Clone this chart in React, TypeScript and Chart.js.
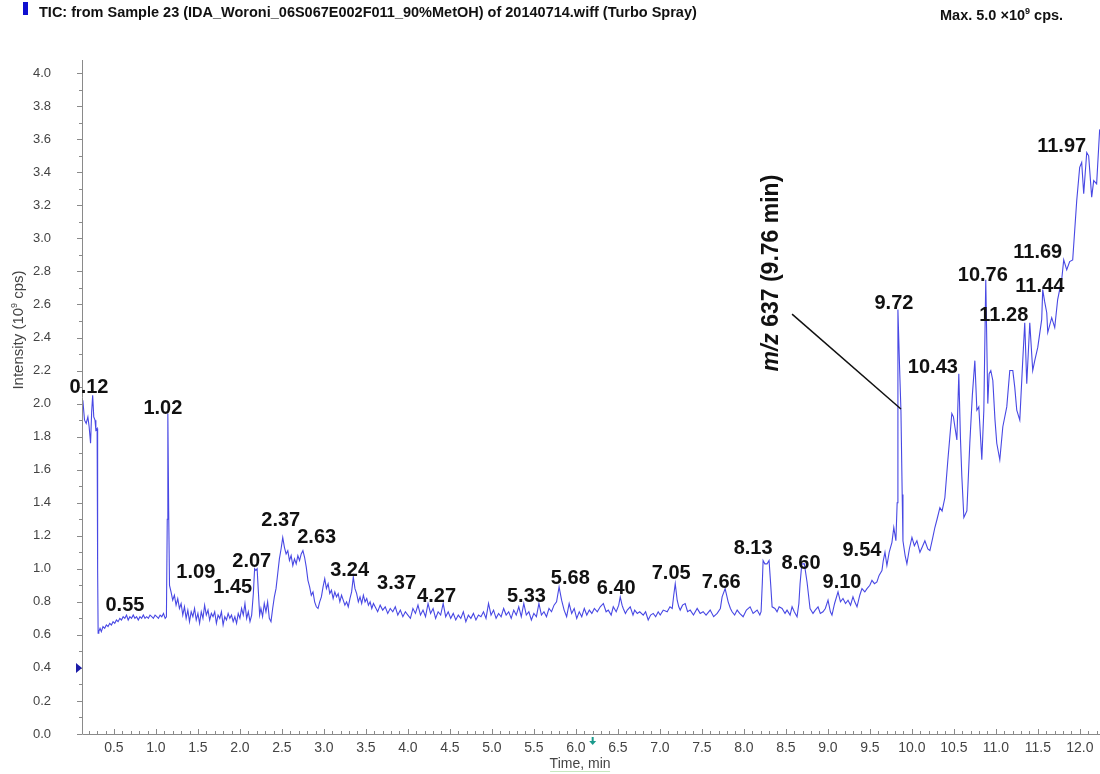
import React, { useEffect, useRef } from "react";
import { Chart, registerables } from "chart.js";

Chart.register(...registerables);

const FONT = '"Liberation Sans", Arial, Helvetica, sans-serif';

// ---- TIC trace (time in min, intensity in 10^9 cps) ----
const timeStart = [0.13, 0.15, 0.17, 0.19, 0.205, 0.222, 0.235, 0.247, 0.26, 0.275, 0.285, 0.30, 0.306, 0.312];
const intStart = [2.02, 1.90, 1.88, 1.92, 1.86, 1.76, 1.95, 2.05, 1.92, 1.90, 1.84, 1.85, 1.00, 0.61];

const timeFlat = [0.32, 0.335, 0.35, 0.37, 0.39, 0.41, 0.43, 0.45, 0.47, 0.49, 0.51, 0.53, 0.55, 0.57, 0.59, 0.61, 0.63, 0.65, 0.67, 0.69, 0.71, 0.73, 0.75, 0.77, 0.79, 0.81, 0.83, 0.85, 0.87, 0.89, 0.91, 0.93, 0.95, 0.97, 0.99, 1.01, 1.03, 1.05, 1.07, 1.09, 1.11, 1.125];
const intFlat = [0.62, 0.64, 0.62, 0.65, 0.64, 0.66, 0.65, 0.67, 0.66, 0.68, 0.67, 0.69, 0.68, 0.70, 0.69, 0.71, 0.70, 0.72, 0.69, 0.71, 0.70, 0.72, 0.70, 0.71, 0.69, 0.71, 0.70, 0.72, 0.70, 0.71, 0.70, 0.72, 0.71, 0.70, 0.72, 0.71, 0.70, 0.72, 0.71, 0.73, 0.70, 0.71];

const timeSpike = [1.135, 1.142, 1.152, 1.162];
const intSpike = [1.30, 1.94, 1.35, 0.90];

const timeEarly = [1.18, 1.20, 1.22, 1.24, 1.26, 1.28, 1.30, 1.32, 1.34, 1.36, 1.38, 1.40, 1.42, 1.44, 1.46, 1.48, 1.50, 1.52, 1.54, 1.56, 1.58, 1.60, 1.62, 1.64, 1.66, 1.68, 1.70, 1.72, 1.74, 1.76, 1.78, 1.80, 1.82, 1.84, 1.86, 1.88, 1.90, 1.92, 1.94, 1.96, 1.98, 2.00, 2.02, 2.04, 2.06, 2.08, 2.10, 2.12, 2.14];
const intEarly = [0.86, 0.81, 0.84, 0.78, 0.82, 0.76, 0.79, 0.72, 0.77, 0.70, 0.75, 0.68, 0.74, 0.71, 0.76, 0.69, 0.73, 0.67, 0.74, 0.70, 0.78, 0.72, 0.75, 0.69, 0.73, 0.71, 0.74, 0.67, 0.72, 0.70, 0.74, 0.66, 0.71, 0.69, 0.73, 0.70, 0.72, 0.68, 0.71, 0.67, 0.73, 0.70, 0.76, 0.72, 0.79, 0.70, 0.74, 0.68, 0.72];

const timeHump = [2.16, 2.175, 2.19, 2.205, 2.22, 2.235, 2.25, 2.27, 2.29, 2.31, 2.33, 2.35, 2.37, 2.39, 2.41, 2.43, 2.45, 2.47, 2.49, 2.51];
const intHump = [0.85, 1.00, 0.99, 1.00, 0.86, 0.72, 0.76, 0.71, 0.79, 0.74, 0.80, 0.70, 0.68, 0.76, 0.83, 0.88, 0.97, 1.06, 1.12, 1.19];

const timeHumpTail = [2.53, 2.55, 2.57, 2.59, 2.61, 2.63, 2.65, 2.67, 2.69, 2.71, 2.73, 2.75, 2.77, 2.79, 2.81, 2.83, 2.85, 2.87, 2.89, 2.91, 2.93, 2.95, 2.97, 2.99, 3.01, 3.03, 3.05, 3.07, 3.09, 3.11, 3.13, 3.15, 3.17, 3.19, 3.21, 3.23, 3.25, 3.27, 3.29, 3.31, 3.33, 3.35, 3.37, 3.39, 3.41, 3.43, 3.45, 3.47, 3.49, 3.51, 3.53, 3.55, 3.57, 3.59];
const intHumpTail = [1.13, 1.09, 1.11, 1.05, 1.08, 1.02, 1.06, 1.03, 1.08, 1.05, 1.09, 1.11, 1.07, 1.01, 0.93, 0.89, 0.84, 0.86, 0.80, 0.77, 0.76, 0.80, 0.83, 0.89, 0.94, 0.88, 0.91, 0.85, 0.87, 0.82, 0.86, 0.83, 0.85, 0.80, 0.84, 0.81, 0.78, 0.80, 0.77, 0.82, 0.86, 0.95, 0.88, 0.85, 0.80, 0.83, 0.79, 0.84, 0.80, 0.82, 0.78, 0.80, 0.76, 0.79];

const timeMid = [3.61, 3.64, 3.67, 3.70, 3.73, 3.76, 3.79, 3.82, 3.85, 3.88, 3.91, 3.94, 3.97, 4.00, 4.03, 4.06, 4.09, 4.12, 4.15, 4.18, 4.21, 4.24, 4.27, 4.30, 4.33, 4.36, 4.39, 4.42, 4.45, 4.48, 4.51, 4.54, 4.57, 4.60, 4.63, 4.66, 4.69, 4.72, 4.75, 4.78, 4.81, 4.84, 4.87, 4.90, 4.93, 4.96, 4.99, 5.02, 5.05, 5.08, 5.11, 5.14, 5.17, 5.20, 5.23, 5.26, 5.29, 5.32, 5.35, 5.38, 5.41, 5.44, 5.47, 5.50, 5.53, 5.56, 5.59, 5.62, 5.65, 5.68, 5.71, 5.74, 5.77, 5.80, 5.83, 5.86, 5.89, 5.92, 5.95, 5.98, 6.01, 6.04, 6.07, 6.10, 6.13, 6.16];
const intMid = [0.77, 0.74, 0.78, 0.75, 0.77, 0.73, 0.76, 0.74, 0.77, 0.72, 0.75, 0.71, 0.74, 0.72, 0.70, 0.76, 0.73, 0.78, 0.72, 0.75, 0.71, 0.79, 0.73, 0.76, 0.70, 0.74, 0.72, 0.79, 0.71, 0.74, 0.70, 0.73, 0.69, 0.72, 0.70, 0.74, 0.68, 0.72, 0.70, 0.73, 0.69, 0.72, 0.71, 0.74, 0.70, 0.79, 0.72, 0.75, 0.70, 0.73, 0.71, 0.76, 0.72, 0.74, 0.70, 0.75, 0.72, 0.77, 0.71, 0.79, 0.72, 0.74, 0.69, 0.73, 0.71, 0.79, 0.72, 0.74, 0.71, 0.76, 0.74, 0.78, 0.80, 0.89, 0.81, 0.75, 0.71, 0.79, 0.73, 0.76, 0.70, 0.74, 0.71, 0.76, 0.72, 0.75];

const timeLate = [6.19, 6.22, 6.255, 6.29, 6.327, 6.36, 6.386, 6.42, 6.445, 6.48, 6.51, 6.528, 6.55, 6.564, 6.59, 6.612, 6.647, 6.68, 6.70, 6.731, 6.76, 6.802, 6.83, 6.861, 6.89, 6.921, 6.95, 6.98, 7.004, 7.04, 7.087, 7.12, 7.147, 7.165, 7.183, 7.206, 7.225, 7.242, 7.27, 7.301, 7.33, 7.361, 7.40, 7.444, 7.48, 7.515, 7.55, 7.599, 7.64, 7.682, 7.72, 7.741, 7.777, 7.813, 7.84, 7.86, 7.89, 7.92, 7.95, 7.991, 8.03, 8.074, 8.11, 8.158, 8.19, 8.205];
const intLate = [0.73, 0.76, 0.74, 0.77, 0.79, 0.74, 0.75, 0.72, 0.77, 0.74, 0.78, 0.83, 0.78, 0.76, 0.73, 0.75, 0.77, 0.72, 0.75, 0.73, 0.74, 0.72, 0.74, 0.69, 0.72, 0.73, 0.71, 0.74, 0.72, 0.75, 0.74, 0.77, 0.76, 0.84, 0.91, 0.81, 0.77, 0.75, 0.78, 0.79, 0.74, 0.75, 0.72, 0.76, 0.73, 0.74, 0.72, 0.75, 0.71, 0.73, 0.76, 0.83, 0.88, 0.80, 0.76, 0.74, 0.72, 0.75, 0.73, 0.71, 0.75, 0.77, 0.73, 0.75, 0.72, 0.74];

const timeRise = [8.22, 8.229, 8.25, 8.276, 8.30, 8.32, 8.336, 8.37, 8.395, 8.42, 8.455, 8.49, 8.514, 8.55, 8.574, 8.60, 8.633, 8.655, 8.669, 8.69, 8.72, 8.752, 8.788, 8.823, 8.85, 8.883, 8.91, 8.942, 8.97, 9.002, 9.03, 9.049, 9.08, 9.121, 9.15, 9.18, 9.21, 9.24, 9.27, 9.299, 9.32, 9.347, 9.38, 9.406, 9.44, 9.466, 9.50, 9.525, 9.555, 9.584, 9.61, 9.644, 9.66, 9.68, 9.703, 9.73, 9.763, 9.785, 9.81];
const intRise = [0.92, 1.05, 1.03, 1.03, 1.05, 0.90, 0.77, 0.76, 0.74, 0.77, 0.76, 0.73, 0.75, 0.72, 0.77, 0.74, 0.71, 0.79, 0.91, 1.03, 1.03, 0.92, 0.76, 0.73, 0.75, 0.77, 0.73, 0.74, 0.76, 0.81, 0.74, 0.72, 0.79, 0.86, 0.80, 0.82, 0.79, 0.81, 0.78, 0.83, 0.80, 0.77, 0.84, 0.88, 0.86, 0.88, 0.90, 0.93, 0.91, 0.92, 0.96, 0.99, 1.05, 1.10, 1.02, 1.10, 1.16, 1.25, 1.17];

const timeEnd = [9.825, 9.834, 9.855, 9.870, 9.885, 9.894, 9.92, 9.941, 9.97, 10.001, 10.03, 10.06, 10.096, 10.13, 10.155, 10.19, 10.215, 10.245, 10.274, 10.30, 10.334, 10.36, 10.393, 10.429, 10.476, 10.495, 10.512, 10.536, 10.559, 10.578, 10.595, 10.619, 10.655, 10.69, 10.72, 10.75, 10.774, 10.797, 10.833, 10.857, 10.88, 10.904, 10.92, 10.94, 10.964, 10.99, 11.011, 11.047, 11.083, 11.13, 11.166, 11.202, 11.225, 11.249, 11.285, 11.32, 11.344, 11.368, 11.404, 11.439, 11.463, 11.499, 11.546, 11.558, 11.58, 11.606, 11.618, 11.665, 11.701, 11.736, 11.784, 11.808, 11.844, 11.879, 11.915, 11.963, 11.998, 12.022, 12.046, 12.082, 12.105, 12.141, 12.165, 12.20, 12.236];
const intEnd = [1.40, 2.57, 2.20, 1.96, 1.45, 1.17, 1.08, 1.03, 1.12, 1.19, 1.14, 1.17, 1.10, 1.14, 1.17, 1.12, 1.11, 1.18, 1.25, 1.30, 1.37, 1.35, 1.43, 1.66, 1.94, 1.92, 1.86, 1.78, 2.18, 1.80, 1.56, 1.31, 1.35, 1.76, 2.05, 2.26, 1.96, 1.98, 1.66, 1.96, 2.75, 2.00, 2.18, 2.20, 2.14, 1.90, 1.76, 1.66, 1.86, 1.98, 2.20, 2.20, 2.10, 1.96, 1.90, 2.26, 2.49, 2.12, 2.49, 2.20, 2.26, 2.34, 2.51, 2.69, 2.62, 2.55, 2.43, 2.52, 2.46, 2.63, 2.75, 2.87, 2.81, 2.86, 2.87, 3.23, 3.43, 3.46, 3.27, 3.52, 3.50, 3.25, 3.35, 3.33, 3.66];

// ---- peak labels (text, anchor in data units) ----
const peakLabels = ["0.12", "1.02", "0.55", "1.09", "1.45", "2.07", "2.37", "2.63", "3.24", "3.37", "4.27", "5.33", "5.68", "6.40", "7.05", "7.66", "8.13", "8.60", "9.10", "9.54", "9.72", "10.43", "10.76", "11.28", "11.44", "11.69", "11.97"];
const peakLabelTime = [0.203, 1.083, 0.631, 1.475, 1.915, 2.141, 2.486, 2.914, 3.306, 3.865, 4.341, 5.411, 5.934, 6.481, 7.135, 7.730, 8.110, 8.681, 9.168, 9.406, 9.787, 10.250, 10.845, 11.095, 11.523, 11.499, 11.784];
const peakLabelIntensity = [2.106, 1.979, 0.787, 0.986, 0.890, 1.053, 1.301, 1.198, 0.998, 0.920, 0.841, 0.841, 0.950, 0.884, 0.980, 0.926, 1.132, 1.041, 0.926, 1.119, 2.614, 2.227, 2.784, 2.542, 2.717, 2.923, 3.564];

// ---- m/z annotation ----
const annotationItalic = "m/z";
const annotationRest = " 637 (9.76 min)";
const annotationAt = [8.336, 2.79];
const annotationLineFrom = [8.574, 2.542];
const annotationLineTo = [9.870, 1.967];

const titleText = "TIC: from Sample 23 (IDA_Woroni_06S067E002F011_90%MetOH) of 20140714.wiff (Turbo Spray)";
const maxText = ["Max. 5.0 \u00d710", "9", " cps."];
const yTitle = ["Intensity (10", "9", " cps)"];
const xTitle = "Time, min";
const markerIntensity = 0.4;
const arrowTime = 6.2;

const X_MIN = 0.12;
const X_MAX = 12.24;
const Y_MIN = 0;
const Y_MAX = 4.08;

const allTimes = [...timeStart, ...timeFlat, ...timeSpike, ...timeEarly, ...timeHump, ...timeHumpTail, ...timeMid, ...timeLate, ...timeRise, ...timeEnd];
const allInts = [...intStart, ...intFlat, ...intSpike, ...intEarly, ...intHump, ...intHumpTail, ...intMid, ...intLate, ...intRise, ...intEnd];

function drawSup(ctx: CanvasRenderingContext2D, parts: string[], x: number, y: number, size: number, weight: string, align: "left" | "center") {
  const main = `${weight} ${size}px ${FONT}`;
  const sup = `${weight} ${Math.round(size * 0.6)}px ${FONT}`;
  ctx.font = main;
  const w0 = ctx.measureText(parts[0]).width;
  const w2 = ctx.measureText(parts[2]).width;
  ctx.font = sup;
  const w1 = ctx.measureText(parts[1]).width;
  const total = w0 + w1 + w2;
  let cx = align === "center" ? x - total / 2 : x;
  ctx.textAlign = "left";
  ctx.textBaseline = "alphabetic";
  ctx.font = main;
  ctx.fillText(parts[0], cx, y);
  cx += w0;
  ctx.font = sup;
  ctx.fillText(parts[1], cx, y - size * 0.42);
  cx += w1;
  ctx.font = main;
  ctx.fillText(parts[2], cx, y);
}

const overlayPlugin = {
  id: "overlay",
  afterDraw(chart: any) {
    const ctx: CanvasRenderingContext2D = chart.ctx;
    const xs = chart.scales.x;
    const ys = chart.scales.y;
    const a = chart.chartArea;
    ctx.save();

    // axis lines
    ctx.strokeStyle = "#8a8a8a";
    ctx.lineWidth = 1;
    ctx.beginPath();
    ctx.moveTo(Math.round(a.left) + 0.5, a.top);
    ctx.lineTo(Math.round(a.left) + 0.5, Math.round(a.bottom) + 0.5);
    ctx.lineTo(a.right, Math.round(a.bottom) + 0.5);
    ctx.stroke();

    // tick marks
    ctx.beginPath();
    for (let i = 0; i <= 40; i++) {
      const py = Math.round(ys.getPixelForValue(i / 10)) + 0.5;
      const len = i % 2 === 0 ? 5 : 3;
      ctx.moveTo(a.left - len, py);
      ctx.lineTo(a.left, py);
    }
    for (let i = 2; i <= 122; i++) {
      const v = i / 10;
      if (v < X_MIN || v > X_MAX) continue;
      const px = Math.round(xs.getPixelForValue(v)) + 0.5;
      const len = i % 5 === 0 ? 5 : 3;
      ctx.moveTo(px, a.bottom);
      ctx.lineTo(px, a.bottom - len);
    }
    ctx.stroke();

    // left marker triangle
    const my = ys.getPixelForValue(markerIntensity);
    ctx.fillStyle = "#1c1ca8";
    ctx.beginPath();
    ctx.moveTo(a.left - 6, my - 5);
    ctx.lineTo(a.left, my);
    ctx.lineTo(a.left - 6, my + 5);
    ctx.closePath();
    ctx.fill();

    // teal arrow under the x axis
    const ax = xs.getPixelForValue(arrowTime);
    ctx.strokeStyle = "#1a9a8c";
    ctx.fillStyle = "#1a9a8c";
    ctx.lineWidth = 2;
    ctx.beginPath();
    ctx.moveTo(ax, a.bottom + 3);
    ctx.lineTo(ax, a.bottom + 8);
    ctx.stroke();
    ctx.beginPath();
    ctx.moveTo(ax - 3.5, a.bottom + 7);
    ctx.lineTo(ax + 3.5, a.bottom + 7);
    ctx.lineTo(ax, a.bottom + 11);
    ctx.closePath();
    ctx.fill();

    // title
    ctx.fillStyle = "#1010d0";
    ctx.fillRect(23, 2, 5, 13);
    ctx.fillStyle = "#111";
    ctx.font = `bold 14.5px ${FONT}`;
    ctx.textAlign = "left";
    ctx.textBaseline = "alphabetic";
    ctx.fillText(titleText, 39, 17);
    drawSup(ctx, maxText, 940, 20, 14.5, "bold", "left");

    // axis titles
    ctx.fillStyle = "#444";
    ctx.save();
    ctx.translate(23, 330);
    ctx.rotate(-Math.PI / 2);
    drawSup(ctx, yTitle, 0, 0, 15, "normal", "center");
    ctx.restore();
    ctx.font = `14px ${FONT}`;
    ctx.textAlign = "center";
    ctx.textBaseline = "middle";
    const xtX = xs.getPixelForValue(6.05);
    ctx.fillText(xTitle, xtX, 764);
    ctx.strokeStyle = "#c8e8c0";
    ctx.lineWidth = 1;
    ctx.beginPath();
    ctx.moveTo(xtX - 30, 771.5);
    ctx.lineTo(xtX + 30, 771.5);
    ctx.stroke();

    // peak labels
    ctx.fillStyle = "#111";
    ctx.font = `bold 20px ${FONT}`;
    ctx.textAlign = "center";
    ctx.textBaseline = "middle";
    for (let i = 0; i < peakLabels.length; i++) {
      ctx.fillText(peakLabels[i], xs.getPixelForValue(peakLabelTime[i]), ys.getPixelForValue(peakLabelIntensity[i]) + 1);
    }

    // m/z annotation
    ctx.strokeStyle = "#111";
    ctx.lineWidth = 1.5;
    ctx.beginPath();
    ctx.moveTo(xs.getPixelForValue(annotationLineFrom[0]), ys.getPixelForValue(annotationLineFrom[1]));
    ctx.lineTo(xs.getPixelForValue(annotationLineTo[0]), ys.getPixelForValue(annotationLineTo[1]));
    ctx.stroke();

    ctx.save();
    ctx.translate(xs.getPixelForValue(annotationAt[0]), ys.getPixelForValue(annotationAt[1]));
    ctx.rotate(-Math.PI / 2);
    const fItalic = `italic bold 23px ${FONT}`;
    const fBold = `bold 23px ${FONT}`;
    ctx.font = fItalic;
    const wi = ctx.measureText(annotationItalic).width;
    ctx.font = fBold;
    const wr = ctx.measureText(annotationRest).width;
    let sx = -(wi + wr) / 2;
    ctx.textAlign = "left";
    ctx.textBaseline = "middle";
    ctx.font = fItalic;
    ctx.fillText(annotationItalic, sx, 0);
    sx += wi;
    ctx.font = fBold;
    ctx.fillText(annotationRest, sx, 0);
    ctx.restore();

    ctx.restore();
  },
};

export default function App() {
  const ref = useRef<HTMLCanvasElement | null>(null);
  useEffect(() => {
    if (!ref.current) return;
    const points = allTimes.map((t, i) => ({ x: t, y: allInts[i] }));
    const chart = new Chart(ref.current, {
      type: "line",
      data: {
        datasets: [
          {
            data: points,
            borderColor: "#4848e4",
            borderWidth: 1.1,
            pointRadius: 0,
            tension: 0,
            fill: false,
          },
        ],
      },
      options: {
        animation: false,
        responsive: false,
        devicePixelRatio: 1,
        layout: { padding: { top: 60, left: 0, right: 0, bottom: 0 } },
        plugins: {
          legend: { display: false },
          title: { display: false },
          tooltip: { enabled: false },
        },
        scales: {
          x: {
            type: "linear",
            min: X_MIN,
            max: X_MAX,
            afterFit: (s: any) => {
              s.height = 40;
            },
            grid: { display: false, drawTicks: false },
            border: { display: false },
            ticks: {
              stepSize: 0.5,
              includeBounds: false,
              padding: 6,
              color: "#444",
              font: { family: FONT, size: 14 },
              maxRotation: 0,
              autoSkip: false,
              callback: (v: any) => Number(v).toFixed(1),
            },
          },
          y: {
            type: "linear",
            min: Y_MIN,
            max: Y_MAX,
            afterFit: (s: any) => {
              s.width = 82;
            },
            grid: { display: false, drawTicks: false },
            border: { display: false },
            ticks: {
              stepSize: 0.2,
              includeBounds: false,
              padding: 31,
              color: "#444",
              font: { family: FONT, size: 13 },
              autoSkip: false,
              callback: (v: any) => Number(v).toFixed(1),
            },
          },
        },
      },
      plugins: [overlayPlugin],
    });
    return () => chart.destroy();
  }, []);
  return (
    <div style={{ position: "absolute", left: 0, top: 0, width: 1100, height: 774, background: "#fff" }}>
      <canvas ref={ref} width={1100} height={774} style={{ display: "block" }} />
    </div>
  );
}
